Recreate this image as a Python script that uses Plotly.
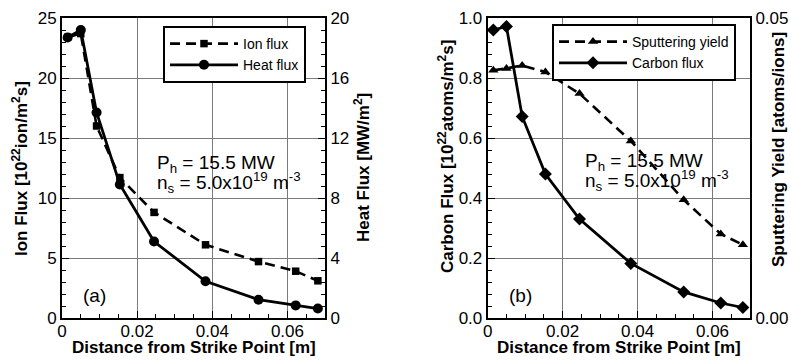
import plotly.graph_objects as go

# Distance from the strike point [m], shared by both panels
distance = [0.0015, 0.005, 0.0092, 0.0154, 0.0245, 0.0382, 0.0523, 0.0622, 0.0681]

# Panel (a)
ion_flux = [23.4, 23.7, 16.0, 11.7, 8.8, 6.1, 4.7, 3.9, 3.1]          # 1e22 ion/m^2 s
heat_flux = [18.7, 19.2, 13.7, 8.9, 5.1, 2.45, 1.22, 0.84, 0.63]      # MW/m^2

# Panel (b)
carbon_flux = [0.96, 0.972, 0.672, 0.48, 0.33, 0.182, 0.087, 0.05, 0.035]            # 1e22 atoms/m^2 s
sputtering_yield = [0.0413, 0.0416, 0.0421, 0.0410, 0.0374, 0.0295, 0.0197, 0.0140, 0.0122]  # atoms/ion

x_ticks = [0, 0.02, 0.04, 0.06]
x_ticktext = ["0", "0.02", "0.04", "0.06"]

W, H = 791, 364
FONT = "Liberation Sans, Arial, Helvetica, sans-serif"
GRID = "#7a7a7a"

fig = go.Figure()

dash_style = "10px,6px"

fig.add_trace(go.Scatter(
    x=distance, y=ion_flux, name="Ion flux", mode="lines+markers",
    line=dict(color="black", width=2.6, dash=dash_style),
    marker=dict(symbol="square", size=7.5, color="black"),
    xaxis="x", yaxis="y", legend="legend"))
fig.add_trace(go.Scatter(
    x=distance, y=heat_flux, name="Heat flux", mode="lines+markers",
    line=dict(color="black", width=2.8),
    marker=dict(symbol="circle", size=10, color="black"),
    xaxis="x", yaxis="y2", legend="legend"))

fig.add_trace(go.Scatter(
    x=distance, y=sputtering_yield, name="Sputtering yield", mode="lines+markers",
    line=dict(color="black", width=2.6, dash=dash_style),
    marker=dict(symbol="triangle-up", size=9, color="black"),
    xaxis="x2", yaxis="y4", legend="legend2"))
fig.add_trace(go.Scatter(
    x=distance, y=carbon_flux, name="Carbon flux", mode="lines+markers",
    line=dict(color="black", width=2.8),
    marker=dict(symbol="diamond", size=10, color="black"),
    xaxis="x2", yaxis="y3", legend="legend2"))

tick_font = dict(family=FONT, size=17, color="black")

def xaxis_cfg(domain, anchor):
    return dict(
        domain=domain, anchor=anchor, range=[0, 0.07], automargin=False,
        tickvals=x_ticks, ticktext=x_ticktext, tickfont=tick_font, ticklabelstandoff=-3,
        ticks="inside", ticklen=7, tickwidth=1.2, tickcolor="black",
        minor=dict(dtick=0.005, ticks="inside", ticklen=4, tickwidth=1, tickcolor="black", showgrid=False),
        showline=True, linecolor="black", linewidth=2, mirror=True,
        showgrid=True, gridcolor=GRID, gridwidth=1, zeroline=False)

def yaxis_cfg(domain, anchor, rng, dtick, minor, side="left", overlaying=None, grid=True, **kw):
    cfg = dict(
        domain=domain, anchor=anchor, range=rng, dtick=dtick, side=side, automargin=False,
        tickfont=tick_font, ticks="inside", ticklen=7, tickwidth=1.2, tickcolor="black",
        showline=True, linecolor="black", linewidth=2,
        showgrid=grid, gridcolor=GRID, gridwidth=1, zeroline=False)
    if minor:
        cfg["minor"] = dict(dtick=minor, ticks="inside", ticklen=4, tickwidth=1,
                            tickcolor="black", showgrid=False)
    if overlaying:
        cfg["overlaying"] = overlaying
    cfg.update(kw)
    return cfg

xd1 = [62 / W, 325 / W]
xd2 = [487.7 / W, 750 / W]
yd = [46 / H, 346 / H]

legend_common = dict(xanchor="left", yanchor="top",
                     bordercolor="black", borderwidth=2, bgcolor="white",
                     font=dict(family=FONT, size=14, color="black"),
                     itemwidth=68, tracegroupgap=0)

fig.update_layout(
    width=W, height=H,
    margin=dict(l=0, r=0, t=0, b=0, autoexpand=False),
    paper_bgcolor="white", plot_bgcolor="white",
    font=dict(family=FONT, color="black"),
    xaxis=xaxis_cfg(xd1, "y"),
    xaxis2=xaxis_cfg(xd2, "y3"),
    yaxis=yaxis_cfg(yd, "x", [0, 25], 5, 1),
    yaxis2=yaxis_cfg(yd, "x", [0, 20], 4, 0.8, side="right", overlaying="y", grid=False),
    yaxis3=yaxis_cfg(yd, "x2", [0, 1], 0.2, 0.04, tickformat=".1f"),
    yaxis4=yaxis_cfg(yd, "x2", [0, 0.05], None, None, side="right", overlaying="y3", grid=False,
                     tickvals=[0, 0.05], ticktext=["0.00", "0.05"]),
    legend=dict(x=163 / W, y=1 - 26 / H, **legend_common),
    legend2=dict(x=552 / W, y=1 - 24 / H, **legend_common),
)

title_font = dict(family=FONT, size=17, color="black", weight="bold")
text_font = dict(family=FONT, size=19, color="black")

annotations = [
    # axis titles
    dict(x=193.5 / W, y=1 - 347 / H, text="Distance from Strike Point [m]", font=title_font),
    dict(x=619 / W, y=1 - 347 / H, text="Distance from Strike Point [m]", font=title_font),
    dict(x=20 / W, y=1 - 169 / H, text="Ion Flux [10<sup>22</sup>ion/m<sup>2</sup>s]", font=title_font, textangle=-90),
    dict(x=362 / W, y=1 - 168 / H, text="Heat Flux [MW/m<sup>2</sup>]", font=title_font, textangle=-90),
    dict(x=446 / W, y=1 - 157 / H, text="Carbon Flux [10<sup>22</sup>atoms/m<sup>2</sup>s]", font=title_font, textangle=-90),
    dict(x=778 / W, y=1 - 150 / H, text="Sputtering Yield [atoms/ions]", font=title_font, textangle=-90),
    # panel labels
    dict(x=94 / W, y=1 - 295 / H, text="(a)", font=text_font),
    dict(x=520 / W, y=1 - 295 / H, text="(b)", font=text_font),
    # operating conditions
    dict(x=155 / W, y=1 - 164 / H, text="P<sub>h</sub> = 15.5 MW", font=text_font, xanchor="left"),
    dict(x=155 / W, y=1 - 182 / H, text="n<sub>s</sub> = 5.0x10<sup>19</sup> m<sup>-3</sup>", font=text_font, xanchor="left"),
    dict(x=583 / W, y=1 - 162 / H, text="P<sub>h</sub> = 15.5 MW", font=text_font, xanchor="left"),
    dict(x=583 / W, y=1 - 180 / H, text="n<sub>s</sub> = 5.0x10<sup>19</sup> m<sup>-3</sup>", font=text_font, xanchor="left"),
]
for a in annotations:
    a.setdefault("xanchor", "center")
    a.setdefault("yanchor", "middle")
    a.update(xref="paper", yref="paper", showarrow=False)
fig.update_layout(annotations=annotations)

fig.write_html("out.html")
